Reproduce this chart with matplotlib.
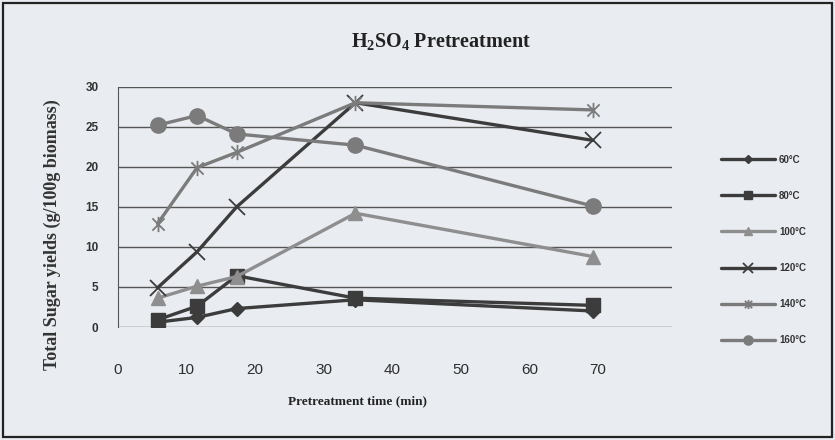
import matplotlib
matplotlib.use("Agg")
import matplotlib.pyplot as plt
from matplotlib.path import Path
from matplotlib.patches import Rectangle

# Pretreatment time (min) and total sugar yields (g/100g biomass)
time_min = [5, 10, 15, 30, 60]
yield_60 = [0.6, 1.2, 2.3, 3.4, 2.0]
yield_80 = [0.9, 2.6, 6.4, 3.6, 2.7]
yield_100 = [3.6, 5.1, 6.3, 14.2, 8.8]
yield_120 = [4.9, 9.4, 15.0, 28.0, 23.3]
yield_140 = [12.9, 19.9, 21.8, 28.0, 27.1]
yield_160 = [25.2, 26.4, 24.1, 22.7, 15.1]
labels = ["60°C", "80°C", "100°C", "120°C", "140°C", "160°C"]
x_ticks = [0, 10, 20, 30, 40, 50, 60, 70]
y_ticks = [0, 5, 10, 15, 20, 25, 30]

plt.rcParams["mathtext.default"] = "regular"

BG = "#e9ecf1"
DARK = "#3c3c3c"
GRAY = "#7b7b7b"
LIGHT = "#8e8e8e"

# asterisk-like marker: an "x" with a vertical stroke
star_path = Path(
    [(-1, -1), (1, 1), (-1, 1), (1, -1), (0, -1.25), (0, 1.25)],
    [Path.MOVETO, Path.LINETO, Path.MOVETO, Path.LINETO, Path.MOVETO, Path.LINETO],
)

fig = plt.figure(figsize=(8.35, 4.4), dpi=100, facecolor=BG)
W, H = 835.0, 440.0
ax = fig.add_axes([118 / W, 1 - 327 / H, (672 - 118) / W, (327 - 86.7) / H])
ax.set_facecolor(BG)

styles = [
    (yield_60, dict(color=DARK, marker="D", ms=7)),
    (yield_80, dict(color=DARK, marker="s", ms=10)),
    (yield_100, dict(color=LIGHT, marker="^", ms=10)),
    (yield_120, dict(color=DARK, marker="x", ms=11, mew=1.3)),
    (yield_140, dict(color=GRAY, marker=star_path, ms=11, mew=1.3)),
    (yield_160, dict(color=GRAY, marker="o", ms=11)),
]
handles = []
for (vals, st), lab in zip(styles, labels):
    (ln,) = ax.plot(time_min, vals, lw=2.4, label=lab, solid_capstyle="round", **st)
    handles.append(ln)

ax.set_xlim(0, 70)
ax.set_ylim(0, 30)
ax.set_yticks(y_ticks)
ax.yaxis.grid(True, color="#555555", lw=1.0)
ax.set_axisbelow(True)
for s in ["top", "right", "bottom"]:
    ax.spines[s].set_visible(False)
ax.spines["left"].set_color("#555555")
ax.tick_params(axis="y", length=0, pad=14, labelsize=8.5, labelcolor="#333333")
for t in ax.get_yticklabels():
    t.set_fontweight("bold")
    t.set_fontfamily("Liberation Sans")
ax.tick_params(axis="x", length=0, labelbottom=False)

# time labels along the bottom, on their own scale
k = 60.65 / 70.0
sec = ax.secondary_xaxis("bottom", functions=(lambda x: x / k, lambda v: v * k))
sec.set_xticks(x_ticks)
sec.tick_params(length=0, pad=26, labelsize=11, labelcolor="#2e2e2e")
sec.spines["bottom"].set_visible(False)
for t in sec.get_xticklabels():
    t.set_fontfamily("Liberation Sans")

fig.text(441 / W, 1 - 42 / H, "H$_2$SO$_4$ Pretreatment", ha="center", va="center",
         fontsize=14.5, fontweight="bold", family="Liberation Serif", color="#222222")
fig.text(357 / W, 1 - 401 / H, "Pretreatment time (min)", ha="center", va="center",
         fontsize=9.5, fontweight="bold", family="Liberation Serif", color="#222222")
fig.text(52 / W, 1 - 235 / H, "Total Sugar yields (g/100g biomass)", ha="center",
         va="center", rotation=90, fontsize=13, fontweight="bold",
         family="Liberation Serif", color="#333333")

leg = fig.legend(handles=handles, loc="upper left", bbox_to_anchor=(712 / W, 1 - 146 / H),
                 frameon=False, handlelength=5.6, handletextpad=0.4,
                 labelspacing=2.68, markerscale=0.6,
                 prop={"family": "Liberation Sans", "weight": "bold", "size": 7})
for t in leg.get_texts():
    t.set_color("#333333")

fig.patches.append(Rectangle((3 / W, 3 / H), 1 - 6 / W, 1 - 6 / H, transform=fig.transFigure,
                             fill=False, ec="#222222", lw=1.6))

fig.savefig("out.png", dpi=100, facecolor=BG)
